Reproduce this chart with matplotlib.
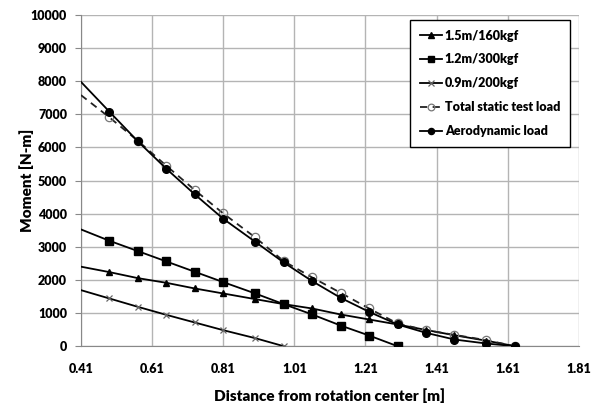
import numpy as np
import matplotlib
matplotlib.use("Agg")
import matplotlib.pyplot as plt

# distance from rotation center [m]
x_full = [0.41, 0.49, 0.57, 0.65, 0.73, 0.81, 0.90, 0.98, 1.06, 1.14, 1.22,
          1.30, 1.38, 1.46, 1.55, 1.63]

# moments [N-m]
m_15 = [2400, 2236, 2054, 1913, 1742, 1591, 1420, 1269, 1138, 957, 806,
        655, 490, 330, 165, 0]
m_12 = [3525, 3182, 2870, 2558, 2246, 1934, 1591, 1269, 957, 624, 322, 0]
m_09 = [1692, 1440, 1188, 946, 715, 483, 242, 0]
m_static = [7580, 6908, 6200, 5448, 4713, 4008, 3283, 2568, 2075, 1611, 1138,
            685, 483, 342, 181, 0]
m_aero = [7980, 7079, 6184, 5357, 4583, 3846, 3151, 2528, 1964, 1460, 1037,
          655, 403, 201, 80, 0]

labels = ["1.5m/160kgf", "1.2m/300kgf", "0.9m/200kgf",
          "Total static test load", "Aerodynamic load"]

plt.rcParams["font.family"] = ["Lato", "DejaVu Sans"]
plt.rcParams["font.weight"] = "bold"

fig = plt.figure(figsize=(5.95, 4.03), dpi=100)
ax = fig.add_axes([0.136, 0.141, 0.837, 0.822])

# first point sits on the axis edge without a marker
mk = slice(1, None)
ax.plot(x_full, m_15, color="k", lw=1.3, marker="^", ms=5, markevery=mk,
        label=labels[0], zorder=3)
ax.plot(x_full[:len(m_12)], m_12, color="k", lw=1.3, marker="s", ms=5.5,
        markevery=mk, label=labels[1], zorder=3)
ax.plot(x_full[:len(m_09)], m_09, color="k", lw=1.3, marker="x", ms=5,
        mec="#666666", mew=0.9, markevery=mk, label=labels[2], zorder=3)
ax.plot(x_full, m_static, color="#222222", lw=1.3, ls=(0, (4, 3)),
        marker="o", ms=6, mfc="none", mec="#777777", mew=0.9,
        markevery=mk, label=labels[3], zorder=3)
ax.plot(x_full, m_aero, color="k", lw=1.3, marker="o", ms=5.5,
        markevery=mk, label=labels[4], zorder=4)

ax.set_xlim(0.41, 1.81)
ax.set_ylim(0, 10000)
ax.set_xticks(np.arange(0.41, 1.82, 0.2))
ax.set_xticklabels(["0.41", "0.61", "0.81", "1.01", "1.21", "1.41", "1.61", "1.81"])
ax.set_yticks(np.arange(0, 10001, 1000))
ax.grid(True, color="#b4b4b4", lw=1)
ax.set_axisbelow(True)

for s in ["top", "right"]:
    ax.spines[s].set_visible(False)
ax.spines["left"].set_color("#888888")
ax.spines["bottom"].set_color("#888888")
ax.tick_params(axis="y", length=4, color="#888888", labelsize=9, pad=6)
ax.tick_params(axis="x", length=0, labelsize=9, pad=12)
plt.setp(ax.get_xticklabels() + ax.get_yticklabels(), fontweight="heavy")

ax.set_xlabel("Distance from rotation center [m]", fontsize=11,
              fontweight="heavy", labelpad=10)
ax.set_ylabel("Moment [N-m]", fontsize=11, fontweight="heavy", labelpad=14)
ax.yaxis.set_label_coords(-0.095, 0.5)

leg = ax.legend(loc="upper right", bbox_to_anchor=(0.995, 1.005), fontsize=9,
                frameon=True, fancybox=False, edgecolor="k", framealpha=1,
                handlelength=1.8, handletextpad=0.2, labelspacing=0.95,
                borderpad=0.8, markerscale=0.8)
leg.get_frame().set_linewidth(1.0)
for t in leg.get_texts():
    t.set_fontweight("heavy")

fig.savefig("out.png", dpi=100)
